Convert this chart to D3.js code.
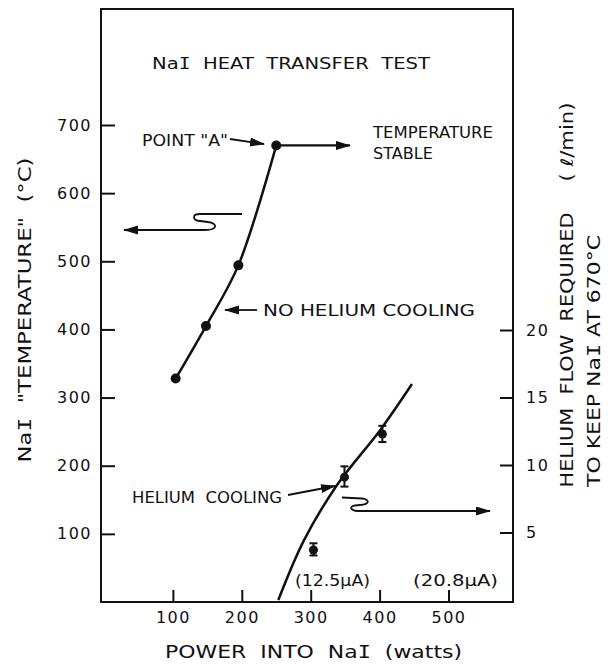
<!DOCTYPE html>
<html>
<head>
<meta charset="utf-8">
<script src="https://cdn.jsdelivr.net/npm/d3@7"></script>
<style>
body { margin: 0; background: #fff; }
text { font-family: "DejaVu Sans", sans-serif; fill: #111; }
</style>
</head>
<body>
<script>
// NaI temperature with no helium cooling
var powerNoHe = [104, 148, 195, 250];
var tempNoHe = [328, 405, 494, 670];

// helium flow needed to hold NaI at 670 C (measured, with error bars)
var powerHe = [304, 349, 404];
var flowHe = [3.7, 9.1, 12.3];
var flowLo = [3.3, 8.4, 11.7];
var flowHi = [4.2, 9.9, 12.9];

// drawn helium cooling curve
var powerFit = [253, 290, 338, 401, 447];
var flowFit = [0, 4.4, 8.5, 12.6, 16.0];

var powerTicks = [100, 200, 300, 400, 500];
var tempTicks = [100, 200, 300, 400, 500, 600, 700];
var flowTicks = [5, 10, 15, 20];

var width = 613, height = 666;
var frame = {left: 101, right: 513, top: 9, bottom: 602};

var svg = d3.select("body").append("svg")
    .attr("width", width)
    .attr("height", height);

var x = d3.scaleLinear().domain([0, 500]).range([104, 448.5]);
var yT = d3.scaleLinear().domain([0, 700]).range([602, 125]);
var yF = d3.scaleLinear().domain([0, 20]).range([600, 330]);

svg.append("defs").append("marker")
    .attr("id", "arrow")
    .attr("markerUnits", "userSpaceOnUse")
    .attr("markerWidth", 16)
    .attr("markerHeight", 10)
    .attr("refX", 14)
    .attr("refY", 4.5)
    .attr("orient", "auto")
  .append("path")
    .attr("d", "M0,0 L15,4.5 L0,9 Z")
    .attr("fill", "#111");

// frame
svg.append("rect")
    .attr("x", frame.left)
    .attr("y", frame.top)
    .attr("width", frame.right - frame.left)
    .attr("height", frame.bottom - frame.top)
    .attr("fill", "none")
    .attr("stroke", "#111")
    .attr("stroke-width", 2);

// axes, ticks pointing inward
var leftAxis = d3.axisLeft(yT).tickValues(tempTicks).tickSize(-14).tickPadding(9);
var gl = svg.append("g").attr("transform", "translate(" + frame.left + ",0)").call(leftAxis);

var bottomAxis = d3.axisBottom(x).tickValues(powerTicks).tickSize(-12).tickPadding(10);
var gb = svg.append("g").attr("transform", "translate(0," + frame.bottom + ")").call(bottomAxis);

var rightAxis = d3.axisRight(yF).tickValues(flowTicks).tickSize(-13).tickPadding(13);
var gr = svg.append("g").attr("transform", "translate(" + frame.right + ",0)").call(rightAxis);

[gl, gb, gr].forEach((g) => {
    g.select(".domain").remove();
    g.selectAll(".tick line").attr("stroke", "#111").attr("stroke-width", 2);
    g.selectAll(".tick text")
        .attr("font-size", "16px")
        .attr("letter-spacing", "1.5px")
        .attr("fill", "#111")
        .style("font-family", "'DejaVu Sans', sans-serif");
});

// no helium curve
var noHe = powerNoHe.map((p, i) => [p, tempNoHe[i]]);
svg.append("path")
    .datum(noHe)
    .attr("fill", "none")
    .attr("stroke", "#111")
    .attr("stroke-width", 2.5)
    .attr("d", d3.line().x((d) => x(d[0])).y((d) => yT(d[1])).curve(d3.curveCatmullRom.alpha(0.5)));

svg.selectAll(".dotT").data(noHe).enter()
    .append("circle")
        .attr("cx", (d) => x(d[0]))
        .attr("cy", (d) => yT(d[1]))
        .attr("r", 5)
        .attr("fill", "#111");

// helium cooling curve
var fit = powerFit.map((p, i) => [p, flowFit[i]]);
svg.append("path")
    .datum(fit)
    .attr("fill", "none")
    .attr("stroke", "#111")
    .attr("stroke-width", 2.5)
    .attr("d", d3.line().x((d) => x(d[0])).y((d) => yF(d[1])).curve(d3.curveCatmullRom.alpha(0.5)));

var he = powerHe.map((p, i) => ({p: p, f: flowHe[i], lo: flowLo[i], hi: flowHi[i]}));
var eb = svg.selectAll(".err").data(he).enter().append("g");
eb.append("line")
    .attr("x1", (d) => x(d.p)).attr("x2", (d) => x(d.p))
    .attr("y1", (d) => yF(d.lo)).attr("y2", (d) => yF(d.hi))
    .attr("stroke", "#111").attr("stroke-width", 2);
eb.append("line")
    .attr("x1", (d) => x(d.p) - 4).attr("x2", (d) => x(d.p) + 4)
    .attr("y1", (d) => yF(d.lo)).attr("y2", (d) => yF(d.lo))
    .attr("stroke", "#111").attr("stroke-width", 2);
eb.append("line")
    .attr("x1", (d) => x(d.p) - 4).attr("x2", (d) => x(d.p) + 4)
    .attr("y1", (d) => yF(d.hi)).attr("y2", (d) => yF(d.hi))
    .attr("stroke", "#111").attr("stroke-width", 2);
eb.append("circle")
    .attr("cx", (d) => x(d.p))
    .attr("cy", (d) => yF(d.f))
    .attr("r", 4.5)
    .attr("fill", "#111");

// arrows
function arrow(d, w) {
    svg.append("path")
        .attr("d", d)
        .attr("fill", "none")
        .attr("stroke", "#111")
        .attr("stroke-width", w || 1.8)
        .attr("marker-end", "url(#arrow)");
}
var ax = x(250), ay = yT(670);
arrow("M" + (ax + 4) + "," + ay + " L" + x(357) + "," + ay, 2.2);
arrow("M230,139 L264,144");
arrow("M257,310 L225,310");
arrow("M288,495 L335,486");
arrow("M242,214 L200,214 C192,214 192,220 200,221 L208,222 C218,223 218,230 205,230 L124,230");
arrow("M342,497.5 L362,498.5 C370,499 370,504.5 360,505 L355,505.5 C349,506 350,511 358,511 L490,511");

// text; the capital I of NaI is drawn with serifs like the lettering guide
function label(t, px, py, size, len, opts) {
    opts = opts || {};
    var el = svg.append("text")
        .attr("x", px)
        .attr("y", py)
        .attr("dy", "0.36em")
        .attr("font-size", size + "px")
        .attr("text-anchor", opts.anchor || "start")
        .style("white-space", "pre");
    var parts = t.split("NaI");
    parts.forEach((s, i) => {
        if (i > 0) {
            el.append("tspan").text("Na");
            el.append("tspan").style("font-family", "'DejaVu Sans Mono', monospace").text("I");
        }
        if (s) el.append("tspan").text(s);
    });
    if (len) el.attr("textLength", len).attr("lengthAdjust", "spacingAndGlyphs");
    if (opts.rotate) el.attr("transform", "rotate(-90," + px + "," + py + ")");
    return el;
}

label("NaI  HEAT  TRANSFER  TEST", 152, 63, 16, 278);
label("POINT \"A\"", 142, 140, 16, 86);
label("TEMPERATURE", 373, 132, 16, 120);
label("STABLE", 373, 153, 16, 60);
label("NO HELIUM COOLING", 263, 310, 16, 212);
label("HELIUM  COOLING", 132, 497, 16, 150);
label("(12.5\u03bcA)", 295, 580, 16, 75);
label("(20.8\u03bcA)", 413, 580, 16, 85);

label("POWER  INTO  NaI  (watts)", 165, 652, 18, 297);
label("NaI  \"TEMPERATURE\"  (\u00b0C)", 25, 310, 18, 305, {anchor: "middle", rotate: true});
label("HELIUM  FLOW  REQUIRED", 567, 350, 18, 275, {anchor: "middle", rotate: true});
label("TO KEEP NaI AT 670\u00b0C", 594, 361, 18, 252, {anchor: "middle", rotate: true});
label("( \u2113/min)", 567, 142, 17, 79, {anchor: "middle", rotate: true});
</script>
</body>
</html>
